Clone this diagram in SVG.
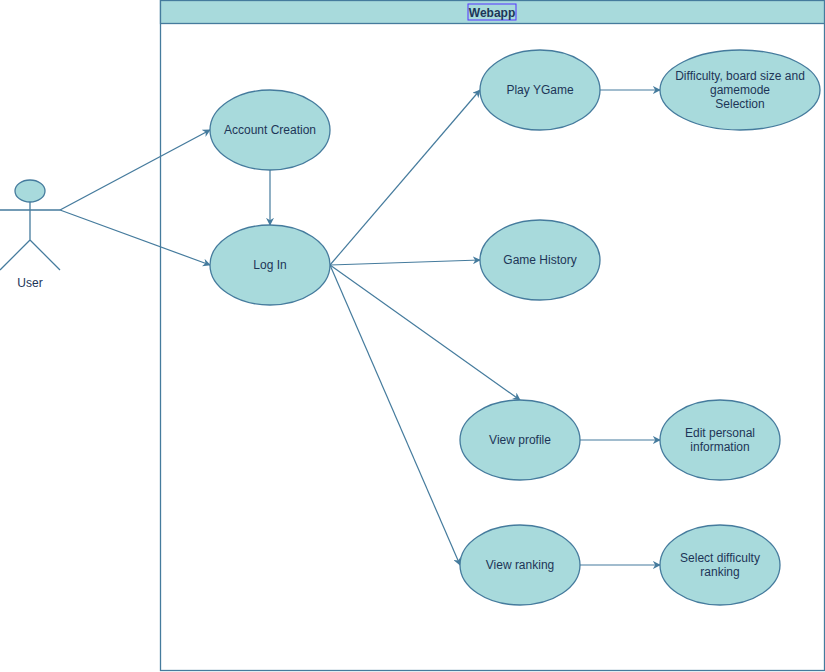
<svg xmlns="http://www.w3.org/2000/svg" width="825" height="672" viewBox="0 0 825 672">
<style>
.n{fill:#A8DADC;stroke:#457B9D;stroke-width:1.3}
.t{font-family:Helvetica,"Liberation Sans",Arial,sans-serif;font-size:12px;fill:#1D3557;text-anchor:middle}
.c{stroke:#457B9D;stroke-width:1.2;fill:none;marker-end:url(#a)}
</style>
<defs><marker id="a" viewBox="0 0 10 10" refX="9" refY="5" markerWidth="8" markerHeight="8" orient="auto" markerUnits="userSpaceOnUse"><path d="M0,0 L10,5 L0,10 L3,5 Z" fill="#457B9D"/></marker></defs>
<g id="webapp">
<rect x="160.5" y="0.5" width="664" height="670" fill="#fff" stroke="#457B9D" stroke-width="1.3"/>
<rect x="160.5" y="0.5" width="664" height="23" class="n"/>
<rect x="468" y="4" width="48" height="16" fill="none" stroke="#5533ff" stroke-width="1"/>
<text x="492" y="17" class="t" font-weight="bold">Webapp</text>
</g>
<g id="user" stroke="#457B9D" stroke-width="1.3">
<ellipse cx="30" cy="191" rx="15" ry="11" class="n"/>
<path d="M30,202V240M0,210H60M30,240L0,270M30,240L60,270" fill="none"/>
<text x="30" y="287" class="t" stroke="none">User</text>
</g>
<g id="connectors">
<path class="c" d="M60,210L210,130"/>
<path class="c" d="M60,210L210,265"/>
<path class="c" d="M270,170V225"/>
<path class="c" d="M330,265L480,90"/>
<path class="c" d="M330,265L480,260"/>
<path class="c" d="M330,265L520,400"/>
<path class="c" d="M330,265L460,565"/>
<path class="c" d="M600,90H660"/>
<path class="c" d="M580,440H660"/>
<path class="c" d="M580,565H660"/>
</g>
<g id="account"><ellipse cx="270" cy="130" rx="60" ry="40" class="n"/><text x="270" y="134" class="t">Account Creation</text></g>
<g id="login"><ellipse cx="270" cy="265" rx="60" ry="40" class="n"/><text x="270" y="269" class="t">Log In</text></g>
<g id="play"><ellipse cx="540" cy="90" rx="60" ry="40" class="n"/><text x="540" y="94" class="t">Play YGame</text></g>
<g id="difficulty"><ellipse cx="740" cy="90" rx="80" ry="40" class="n"/><text class="t"><tspan x="740" y="80">Difficulty, board size and</tspan><tspan x="740" y="94">gamemode</tspan><tspan x="740" y="108">Selection</tspan></text></g>
<g id="history"><ellipse cx="540" cy="260" rx="60" ry="40" class="n"/><text x="540" y="264" class="t">Game History</text></g>
<g id="profile"><ellipse cx="520" cy="440" rx="60" ry="40" class="n"/><text x="520" y="444" class="t">View profile</text></g>
<g id="edit"><ellipse cx="720" cy="440" rx="60" ry="40" class="n"/><text class="t"><tspan x="720" y="437">Edit personal</tspan><tspan x="720" y="451">information</tspan></text></g>
<g id="ranking"><ellipse cx="520" cy="565" rx="60" ry="40" class="n"/><text x="520" y="569" class="t">View ranking</text></g>
<g id="selectdiff"><ellipse cx="720" cy="565" rx="60" ry="40" class="n"/><text class="t"><tspan x="720" y="562">Select difficulty</tspan><tspan x="720" y="576">ranking</tspan></text></g>
</svg>
